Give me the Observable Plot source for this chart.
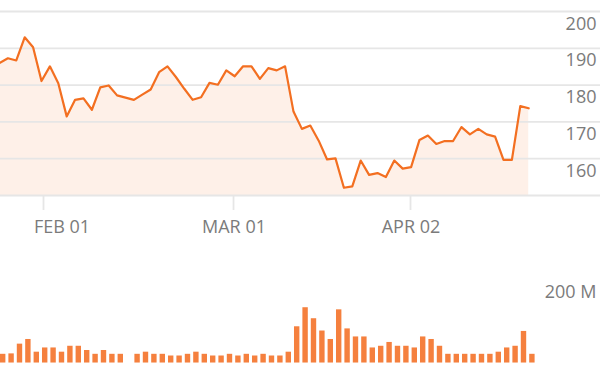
<!DOCTYPE html>
<html>
<head>
<meta charset="utf-8">
<script src="https://cdn.jsdelivr.net/npm/d3@7"></script>
<script src="https://cdn.jsdelivr.net/npm/@observablehq/plot@0.6"></script>
<style>
  html, body { margin: 0; padding: 0; background: #fff; }
  #chart { width: 600px; height: 373px; overflow: hidden; }
  #chart svg { display: block; overflow: hidden; }
</style>
</head>
<body>
<div id="chart"></div>
<script>
// Trading-day slots (index 15 is an empty holiday slot)
const price = [
  186.0, 187.3, 186.7, 193.0, 190.3, 181.1, 185.1, 180.5, 171.5, 176.0,
  176.4, 173.3, 179.4, 179.9, 177.2, null, 176.0, 177.4, 178.8, 183.5,
  185.1, 182.2, 179.0, 176.0, 176.7, 180.6, 180.1, 184.0, 182.4, 185.1,
  185.1, 181.7, 184.6, 184.0, 185.1, 172.8, 168.1, 169.0, 164.9, 159.8,
  160.1, 152.1, 152.5, 159.5, 155.6, 156.1, 155.0, 159.5, 157.3, 157.7,
  165.1, 166.3, 164.0, 164.8, 164.8, 168.6, 166.6, 168.1, 166.6, 166.0,
  159.7, 159.7, 174.3, 173.7
];
// Volume in millions
const volume = [
  21, 22, 45, 56, 26, 36, 36, 26, 40, 40,
  30, 21, 30, 21, 21, null, 21, 26, 21, 21,
  17, 17, 21, 26, 21, 17, 17, 21, 17, 21,
  17, 21, 17, 17, 26, 86, 131, 105, 76, 56,
  126, 81, 62, 62, 36, 40, 49, 40, 40, 36,
  62, 56, 40, 21, 21, 21, 21, 21, 21, 26,
  36, 40, 75, 21
];
const priceTicks = [150, 160, 170, 180, 190, 200];
const priceLabels = [160, 170, 180, 190, 200];
const volumeTicks = [200];
const xTickLabels = ["FEB 01", "MAR 01", "APR 02"];
const xTickAt = [5.24, 27.86, 48.93];

const rows = price.map((p, i) => ({i, p, v: volume[i]}));
const priceRows = rows.filter(d => d.p != null);
const volRows = rows.filter(d => d.v != null);
const xTicks = xTickLabels.map((label, k) => ({label, at: xTickAt[k]}));

const W = 600;
const pitch = 8.4;
const x0 = 0.12;
const xDomain = [x0, x0 + W / pitch];
const font = "'Open Sans', sans-serif";
const orange = "#f36f21";
const textColor = "#7b7b7b";
const gridColor = "#e6e6e6";
const ls = "1.2px";

const pricePlot = Plot.plot({
  width: W,
  height: 240,
  marginLeft: 0,
  marginRight: 0,
  marginTop: 11,
  marginBottom: 45,
  style: {fontFamily: font, background: "white"},
  x: {domain: xDomain, axis: null},
  y: {domain: [priceTicks[0], priceTicks[priceTicks.length - 1]], axis: null},
  marks: [
    Plot.areaY(priceRows, {x: "i", y1: priceTicks[0], y2: "p", fill: orange, fillOpacity: 0.1, clip: true}),
    Plot.ruleY(priceTicks, {stroke: gridColor, strokeWidth: 1.8}),
    Plot.ruleX(xTicks, {x: "at", y1: priceTicks[0], y2: priceTicks[0] - 15 / 3.68, stroke: gridColor, strokeWidth: 1.8}),
    Plot.line(priceRows, {x: "i", y: "p", stroke: orange, strokeWidth: 2.2, strokeLinejoin: "round", clip: true}),
    Plot.text(priceLabels, {y: d => d, text: d => String(d), frameAnchor: "right", textAnchor: "end", lineAnchor: "middle", dx: -4, dy: 12.3, fontSize: 18, fill: textColor, letterSpacing: ls}),
    Plot.text(xTicks.slice(0, 1), {x: "at", text: "label", frameAnchor: "bottom", lineAnchor: "middle", dy: 32, dx: 18.5, fontSize: 18, fill: textColor, letterSpacing: ls}),
    Plot.text(xTicks.slice(1), {x: "at", text: "label", frameAnchor: "bottom", lineAnchor: "middle", dy: 32, dx: 0.5, fontSize: 18, fill: textColor, letterSpacing: ls})
  ]
});

const volPlot = Plot.plot({
  width: W,
  height: 133,
  marginLeft: 0,
  marginRight: 0,
  marginTop: 38,
  marginBottom: 10.3,
  style: {fontFamily: font, background: "white"},
  x: {domain: xDomain, axis: null},
  y: {domain: [0, volumeTicks[0]], axis: null},
  marks: [
    Plot.rectY(volRows, {x1: "i", x2: d => d.i + 1, y1: 0, y2: "v", fill: "#f5803e", insetLeft: 1, insetRight: 2, clip: true}),
    Plot.text(volumeTicks, {y: d => d, text: d => d + " M", frameAnchor: "right", textAnchor: "end", lineAnchor: "middle", dx: -4, dy: 13.5, fontSize: 18, fill: textColor, letterSpacing: ls})
  ]
});

const chart = document.getElementById("chart");
chart.appendChild(pricePlot);
chart.appendChild(volPlot);
</script>
</body>
</html>
